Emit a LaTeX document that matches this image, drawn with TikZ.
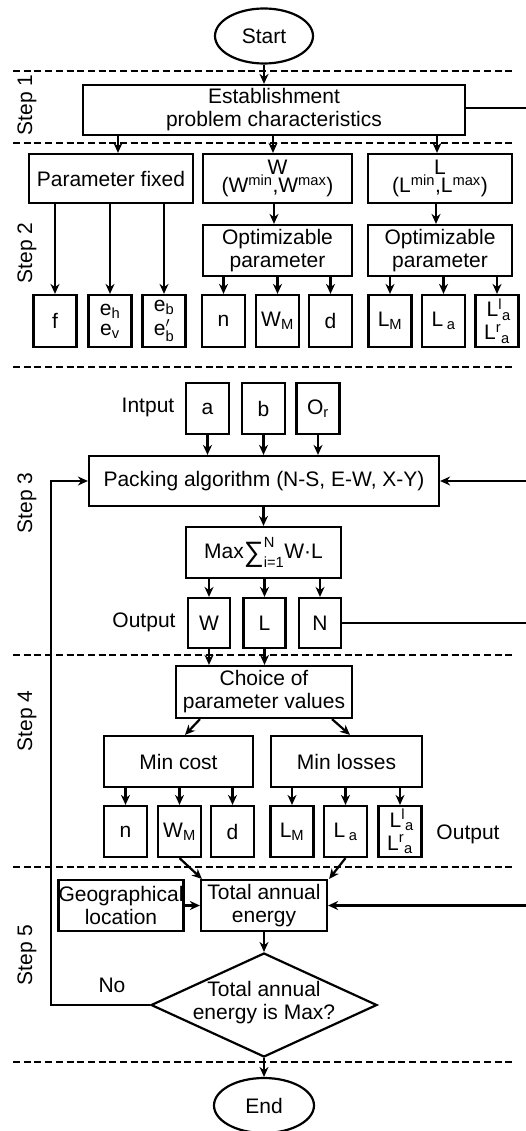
\documentclass[tikz,border=0pt]{standalone}
\usepackage{fontspec}
\setmainfont{Liberation Sans}
\usepackage{amsmath}
\usetikzlibrary{arrows.meta,shapes.geometric}
\begin{document}
\begin{tikzpicture}[x=1pt,y=-1pt,
  every node/.style={font=\fontsize{21pt}{23pt}\selectfont},
  box/.style={draw,line width=2.2pt,rectangle,inner sep=0pt,align=center},
  sbox/.style={box,minimum width=43pt,minimum height=51pt},
  arr/.style={line width=2.2pt,-{Stealth[length=10pt,width=9pt]}},
  ln/.style={line width=2.2pt},
  sepline/.style={line width=2.8pt,dash pattern=on 7pt off 3.7pt},
  steplbl/.style={rotate=90},
  term/.style={draw,ellipse,line width=2.2pt,inner sep=0pt,minimum width=98pt,minimum height=55pt}
]
\useasboundingbox (0,0) rectangle (526,1131);

% separator lines
\foreach \yy in {71,143,367,655,867,1062}
  \draw[sepline] (13,\yy) -- (512,\yy);

% step labels
\node[steplbl] (s1) at (27,105) {Step 1};
\node[steplbl] (s2) at (27,253) {Step 2};
\node[steplbl] (s3) at (27,503) {Step 3};
\node[steplbl] (s4) at (27,721) {Step 4};
\node[steplbl] (s5) at (27,955) {Step 5};

% right edge coordinates
\coordinate (r1) at (526,108);
\coordinate (r2) at (526,481);
\coordinate (r3) at (526,623);
\coordinate (r4) at (526,905.5);
\coordinate (fb) at (51,1005);

% Step 1
\node[term] (start) at (264,36) {Start};
\node[box,minimum width=382pt,minimum height=50pt] (est) at (274,110) {Establishment\\problem characteristics};

% Step 2
\node[box,minimum width=164pt,minimum height=49pt] (pf) at (111,178.5) {Parameter fixed};
\node[box,minimum width=149pt,minimum height=49pt] (wr) at (277.5,178.5) {W\\[-5pt](W\textsuperscript{min},W\textsuperscript{max})};
\node[box,minimum width=144pt,minimum height=49pt] (lr) at (440,178.5) {L\\[-5pt](L\textsuperscript{min},L\textsuperscript{max})};
\node[box,minimum width=149pt,minimum height=51pt] (ow) at (277.5,250.5) {Optimizable\\parameter};
\node[box,minimum width=144pt,minimum height=51pt] (ol) at (440,250.5) {Optimizable\\parameter};

\node[sbox,minimum height=52pt] (f) at (55,321) {f};
\node[sbox,minimum height=52pt] (eh) at (110,321) {e\textsubscript{h}\\[-3pt]e\textsubscript{v}};
\node[sbox,minimum height=52pt] (eb) at (164,321) {e\textsubscript{b}\\[1pt]e$'_{\text{b}}$};
\node[sbox,minimum height=52pt] (n1) at (223.5,321) {n};
\node[sbox,minimum height=52pt] (wm1) at (277.5,321) {W\textsubscript{M}};
\node[sbox,minimum height=52pt] (d1) at (330.5,321) {d};
\node[sbox,minimum height=52pt] (lm1) at (390,321) {L\textsubscript{M}};
\node[sbox,minimum height=52pt] (la1) at (443.5,321) {L\,\textsubscript{a}};
\node[sbox,minimum height=52pt] (ll1) at (497,321) {\,L\textsuperscript{l}\textsubscript{a}\\[0pt]L\textsuperscript{r}\textsubscript{a}};

% Step 3
\node (inlbl) at (148,407) {Intput};
\node[sbox] (ia) at (207.5,408.5) {a};
\node[sbox] (ib) at (263.5,408.5) {b};
\node[sbox] (io) at (318,408.5) {O\textsubscript{r}};
\node[box,minimum width=350pt,minimum height=50pt] (pack) at (264,481) {Packing algorithm (N-S, E-W, X-Y)};
\node[box,minimum width=155pt,minimum height=51pt] (max) at (263.5,552.5)
  {Max$\mathop{\raisebox{-3pt}{\fontsize{28pt}{28pt}\selectfont ∑}}\nolimits^{\text{N}}_{\text{i=1}}$W·L};
\node (outlbl) at (144,622) {Output};
\node[sbox,minimum width=42pt,minimum height=50pt] (ow1) at (209,623) {W};
\node[sbox,minimum width=42pt,minimum height=50pt] (ol1) at (264.5,623) {L};
\node[sbox,minimum width=42pt,minimum height=50pt] (on1) at (320,623) {N};

% Step 4
\node[box,minimum width=176pt,minimum height=52pt] (choice) at (264,692) {Choice of\\parameter values};
\node[box,minimum width=149pt,minimum height=51pt] (mc) at (178.5,761.5) {Min cost};
\node[box,minimum width=151pt,minimum height=51pt] (ml) at (346.5,761.5) {Min losses};
\node[sbox] (n2) at (125.5,831.5) {n};
\node[sbox] (wm2) at (179.5,831.5) {W\textsubscript{M}};
\node[sbox] (d2) at (232.5,831.5) {d};
\node[sbox] (lm2) at (292,831.5) {L\textsubscript{M}};
\node[sbox] (la2) at (345.5,831.5) {L\,\textsubscript{a}};
\node[sbox] (ll2) at (400,831.5) {\,L\textsuperscript{l}\textsubscript{a}\\[0pt]L\textsuperscript{r}\textsubscript{a}};
\node (outlbl2) at (468,834) {Output};

% Step 5
\node[box,minimum width=122pt,minimum height=51pt] (geo) at (121,905.5) {Geographical\\location};
\node[box,minimum width=126pt,minimum height=51pt] (tot) at (264,905.5) {Total annual\\energy};
\node[draw,diamond,line width=2.2pt,inner sep=0pt,minimum width=226pt,minimum height=104pt] (dec) at (264,1005) {};
\node[align=center] (dectxt) at (264,1003) {Total annual\\energy is Max?};
\node (no) at (112,985) {No};
\node[term,minimum width=100pt] (end) at (264,1105.5) {End};

% connectors
\draw[arr] (start.south) -- (start.south |- est.north);
\draw[ln] (est.east |- r1) -- (r1);
\draw[arr] ([xshift=7pt]pf.north |- est.south) -- ([xshift=7pt]pf.north);
\draw[arr] ([xshift=-4.5pt]wr.north |- est.south) -- ([xshift=-4.5pt]wr.north);
\draw[arr] ([xshift=-3pt]lr.north |- est.south) -- ([xshift=-3pt]lr.north);

\draw[arr] (pf.south -| f) -- (f);
\draw[arr] (pf.south -| eh) -- (eh);
\draw[arr] (pf.south -| eb) -- (eb);
\draw[arr] ([xshift=-3.5pt]wr.south) -- ([xshift=-3.5pt]ow.north);
\draw[arr] ([xshift=-4pt]lr.south) -- ([xshift=-4pt]ol.north);
\draw[arr] (ow.south -| n1) -- (n1);
\draw[arr] (ow.south -| wm1) -- (wm1);
\draw[arr] (ow.south -| d1) -- (d1);
\draw[arr] (ol.south -| lm1) -- (lm1);
\draw[arr] (ol.south -| la1) -- (la1);
\draw[arr] (ol.south -| ll1) -- (ll1);

\draw[arr] (ia) -- (ia |- pack.north);
\draw[arr] (ib) -- (ib |- pack.north);
\draw[arr] (io) -- (io |- pack.north);
\draw[arr] (pack.south -| max) -- (max);
\draw[arr] (max.south -| ow1) -- (ow1);
\draw[arr] (max.south -| ol1) -- (ol1);
\draw[arr] (max.south -| on1) -- (on1);
\draw[ln] (on1.east) -- (r3);
\draw[arr] (r2) -- (pack.east);

\draw[arr] (ow1) -- (ow1 |- choice.north);
\draw[arr] (ol1) -- (ol1 |- choice.north);
\draw[arr] ([xshift=-64pt]choice.south) -- ([xshift=6.5pt]mc.north);
\draw[arr] ([xshift=68pt]choice.south) -- ([xshift=3.5pt]ml.north);
\draw[arr] (mc.south -| n2) -- (n2);
\draw[arr] (mc.south -| wm2) -- (wm2);
\draw[arr] (mc.south -| d2) -- (d2);
\draw[arr] (ml.south -| lm2) -- (lm2);
\draw[arr] (ml.south -| la2) -- (la2);
\draw[arr] (ml.south -| ll2) -- (ll2);

\draw[arr] (wm2.south) -- ([xshift=2pt]tot.north west);
\draw[arr] (la2.south) -- ([xshift=1pt]tot.north east);
\draw[arr] (geo) -- (tot);
\draw[arr] (r4) -- (tot.east);
\draw[arr] (tot.south) -- (dec.north);
\draw[arr] (dec.south) -- (end.north);
\draw[arr] (dec.west) -- (fb) |- (pack.west);
\end{tikzpicture}
\end{document}
